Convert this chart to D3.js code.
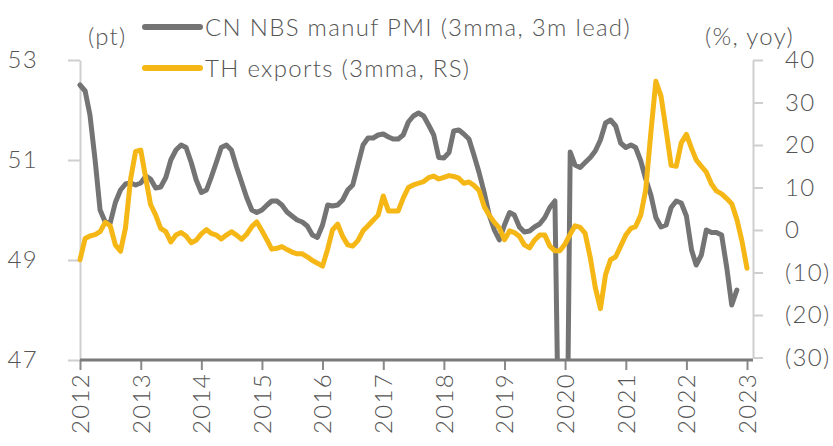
<!DOCTYPE html>
<html>
<head>
<meta charset="utf-8">
<script src="https://cdn.jsdelivr.net/npm/d3@7"></script>
<style>
    body { margin: 0; background: #fff; }
    text { font-family: Lato, "Open Sans", sans-serif; font-weight: 300; fill: #555; letter-spacing: 1.3px; }
</style>
</head>
<body>
<script>
// monthly, starting Jan 2012
var startMonth = new Date(2012, 0, 1);

var pmi = [
    52.5, 52.38, 51.9, 51.0, 50.0, 49.76, 49.74, 50.15, 50.4, 50.52,
    50.54, 50.5, 50.54, 50.68, 50.62, 50.44, 50.46, 50.65, 51.0, 51.2,
    51.3, 51.25, 50.95, 50.6, 50.35, 50.4, 50.65, 50.95, 51.25, 51.3,
    51.2, 50.86, 50.55, 50.25, 50.0, 49.95, 50.0, 50.1, 50.18, 50.18,
    50.1, 49.96, 49.88, 49.8, 49.76, 49.68, 49.5, 49.45, 49.7, 50.1,
    50.08, 50.1, 50.2, 50.4, 50.5, 50.9, 51.3, 51.44, 51.44, 51.5,
    51.52, 51.46, 51.42, 51.42, 51.5, 51.76, 51.88, 51.94, 51.88, 51.7,
    51.5, 51.05, 51.04, 51.15, 51.58, 51.6, 51.52, 51.42, 51.1, 50.75,
    50.35, 49.9, 49.6, 49.4, 49.7, 49.95, 49.9, 49.66, 49.56, 49.58,
    49.66, 49.72, 49.85, 50.05, 50.18, 43.5, 41.0, 51.16, 50.9, 50.85,
    50.95, 51.05, 51.18, 51.4, 51.74, 51.8, 51.68, 51.34, 51.25, 51.3,
    51.25, 50.98, 50.62, 50.3, 49.85, 49.66, 49.7, 50.05, 50.18, 50.14,
    49.88, 49.2, 48.9, 49.1, 49.6, 49.55, 49.55, 49.5, 48.85, 48.1, 48.4
];

var thExports = [
    -7.0, -2.0, -1.4, -1.1, -0.4, 1.8, 1.0, -3.5, -5.0, 0.5,
    12.0, 18.5, 18.8, 12.0, 6.0, 3.5, 0.4, -0.4, -2.8, -1.2,
    -0.6, -1.4, -3.0, -2.4, -0.9, 0.1, -0.8, -1.2, -2.1, -1.2,
    -0.4, -1.2, -2.2, -1.0, 0.8, 1.9, -0.2, -2.4, -4.5, -4.3,
    -3.9, -4.6, -5.2, -5.6, -5.6, -6.3, -7.2, -7.8, -8.5, -4.5,
    0.0, 1.4, -1.5, -3.5, -3.8, -2.5, -0.2, 1.0, 2.3, 3.5,
    8.0, 4.5, 4.5, 4.5, 7.5, 10.0, 10.6, 11.0, 11.4, 12.3,
    12.7, 12.0, 12.4, 12.8, 12.6, 12.2, 11.0, 11.3, 10.5, 9.3,
    5.5, 3.5, 1.8, 0.5, -2.3, -0.2, -0.6, -1.5, -3.5, -4.2,
    -2.4, -1.2, -1.2, -3.8, -4.9, -4.9, -3.3, -1.0, 1.0, 0.6,
    -0.8, -6.5, -13.5, -18.5, -10.5, -7.0, -6.3, -3.8, -1.2, 0.4,
    0.8, 3.5, 9.5, 23.0, 35.0, 31.5, 23.4, 15.2, 15.0, 20.5,
    22.5, 19.2, 16.5, 15.0, 13.6, 10.8, 9.2, 8.5, 7.4, 6.2,
    2.5, -2.5, -9.0
];

var years = d3.range(2012, 2024);
var leftTicks = [47, 49, 51, 53];
var rightTicks = [-30, -20, -10, 0, 10, 20, 30, 40];
var seriesNames = ["CN NBS manuf PMI (3mma, 3m lead)", "TH exports (3mma, RS)"];
var seriesColors = ["#747474", "#f5b716"];

var svgWidth = 833;
var svgHeight = 446;

var svg = d3.select("body")
        .append("svg")
        .attr("width", svgWidth)
        .attr("height", svgHeight);

var xScale = d3.scaleTime()
        .domain([new Date(2012, 0, 1), new Date(2023, 0, 1)])
        .range([80, 747]);

var yLeft = d3.scaleLinear()
        .domain([47, 53])
        .range([360, 60]);

var yRight = d3.scaleLinear()
        .domain([-30, 40])
        .range([357.5, 60]);

function monthDate(i) {
    return d3.timeMonth.offset(startMonth, i);
}

// left axis
var gLeft = svg.append("g")
        .attr("transform", "translate(80,0)")
        .call(d3.axisLeft(yLeft).tickValues(leftTicks).tickSize(12).tickSizeOuter(0).tickPadding(30)
            .tickFormat(d3.format("d")));
gLeft.select(".domain").attr("stroke", "#cfcfcf").attr("stroke-width", 2);
gLeft.selectAll(".tick line").attr("stroke", "#cfcfcf").attr("stroke-width", 2);
gLeft.selectAll("text").style("font-size", "24px");

// right axis
var gRight = svg.append("g")
        .attr("transform", "translate(753,0)")
        .call(d3.axisRight(yRight).tickValues(rightTicks).tickSize(10).tickSizeOuter(0).tickPadding(22)
            .tickFormat(function (d) { return d < 0 ? "(" + (-d) + ")" : d; }));
gRight.select(".domain").attr("stroke", "#cfcfcf").attr("stroke-width", 2);
gRight.selectAll(".tick line").attr("stroke", "#cfcfcf").attr("stroke-width", 2);
gRight.selectAll("text").style("font-size", "24px");

// lines, clipped to the plot area
svg.append("clipPath")
        .attr("id", "plotClip")
        .append("rect")
        .attr("x", 70).attr("y", 0).attr("width", 700).attr("height", 360);

var plot = svg.append("g").attr("clip-path", "url(#plotClip)");

var pmiLine = d3.line()
        .x(function (d, i) { return xScale(monthDate(i)); })
        .y(function (d) { return yLeft(d); });

var expLine = d3.line()
        .x(function (d, i) { return xScale(monthDate(i)); })
        .y(function (d) { return yRight(d); });

plot.append("path")
        .datum(pmi)
        .attr("d", pmiLine)
        .attr("fill", "none")
        .attr("stroke", seriesColors[0])
        .attr("stroke-width", 5)
        .attr("stroke-linejoin", "round")
        .attr("stroke-linecap", "round");

plot.append("path")
        .datum(thExports)
        .attr("d", expLine)
        .attr("fill", "none")
        .attr("stroke", seriesColors[1])
        .attr("stroke-width", 5)
        .attr("stroke-linejoin", "round")
        .attr("stroke-linecap", "round");

// bottom axis
var gBottom = svg.append("g")
        .attr("transform", "translate(0," + yLeft(47) + ")")
        .call(d3.axisBottom(xScale)
            .tickValues(years.map(function (y) { return new Date(y, 0, 1); }))
            .tickFormat(d3.timeFormat("%Y"))
            .tickSize(10).tickSizeOuter(0));
gBottom.select(".domain").remove();
gBottom.selectAll(".tick line").attr("stroke", "#8a8a8a").attr("stroke-width", 2);
gBottom.selectAll("text")
        .style("font-size", "24px")
        .style("text-anchor", "end")
        .attr("x", -13)
        .attr("y", 0)
        .attr("dy", "0.35em")
        .attr("transform", "rotate(-90)");
gBottom.append("line")
        .attr("x1", 80).attr("x2", 753)
        .attr("y1", 0).attr("y2", 0)
        .attr("stroke", "#7a7a7a")
        .attr("stroke-width", 3);

// unit labels
svg.append("text").attr("x", 88).attr("y", 45).style("font-size", "24px").text("(pt)");
svg.append("text").attr("x", 705).attr("y", 45).style("font-size", "24px").text("(%, yoy)");

// legend
var legend = svg.append("g");
seriesNames.forEach(function (name, i) {
    var ly = 27 + i * 41;
    legend.append("line")
            .attr("x1", 145).attr("x2", 200)
            .attr("y1", ly).attr("y2", ly)
            .attr("stroke", seriesColors[i])
            .attr("stroke-width", 6)
            .attr("stroke-linecap", "round");
    legend.append("text")
            .attr("x", 205).attr("y", ly + 9)
            .style("font-size", "24px")
            .text(name);
});
</script>
</body>
</html>
